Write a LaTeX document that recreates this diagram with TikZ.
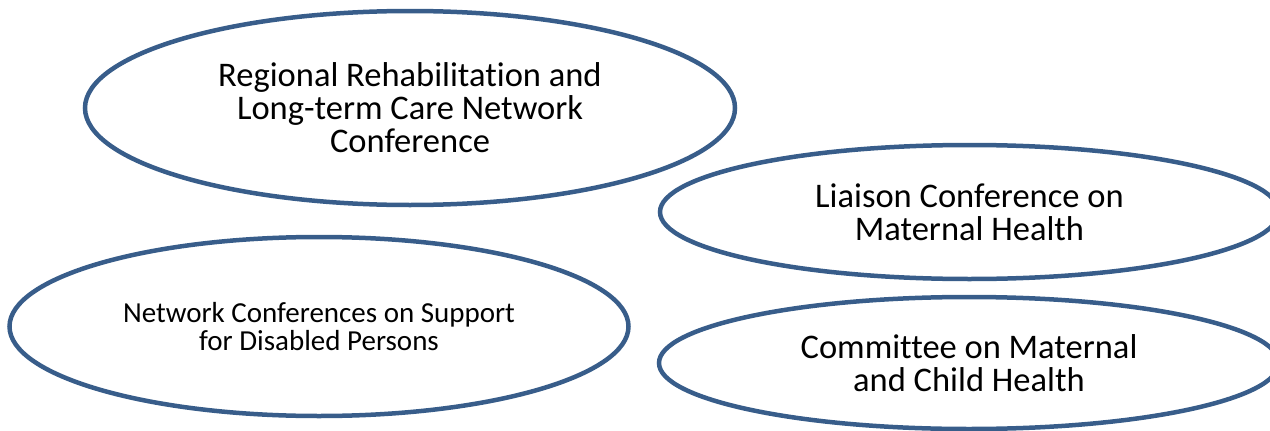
\documentclass[tikz,border=0pt]{standalone}
\usepackage{fontspec}
\setmainfont{Carlito}[Ligatures=NoCommon]
\usetikzlibrary{shapes.geometric}
\definecolor{ringblue}{HTML}{385D8A}
\tikzset{
  ring/.style={ellipse, draw=ringblue, line width=4.5pt, inner sep=0pt, align=center, text=black},
  bigtext/.style={font=\fontsize{34.5}{33}\selectfont},
  smalltext/.style={font=\fontsize{29}{28}\selectfont}
}
\begin{document}
\begin{tikzpicture}[x=1pt,y=-1pt]
\useasboundingbox (0,0) rectangle (1270,431);
\clip (0,0) rectangle (1270,431);
\node[ring, bigtext, minimum width=650pt, minimum height=194pt] (rehab) at (410,108)
  {Regional Rehabilitation and\\Long-term Care Network\\Conference};
\node[ring, bigtext, minimum width=619pt, minimum height=134pt] (liaison) at (969.5,212)
  {Liaison Conference on\\Maternal Health};
\node[ring, smalltext, minimum width=619pt, minimum height=179pt] (disabled) at (319,326.5)
  {Network Conferences on Support\\for Disabled Persons};
\node[ring, bigtext, minimum width=620pt, minimum height=132pt] (committee) at (969,363)
  {Committee on Maternal\\and Child Health};
\end{tikzpicture}
\end{document}
